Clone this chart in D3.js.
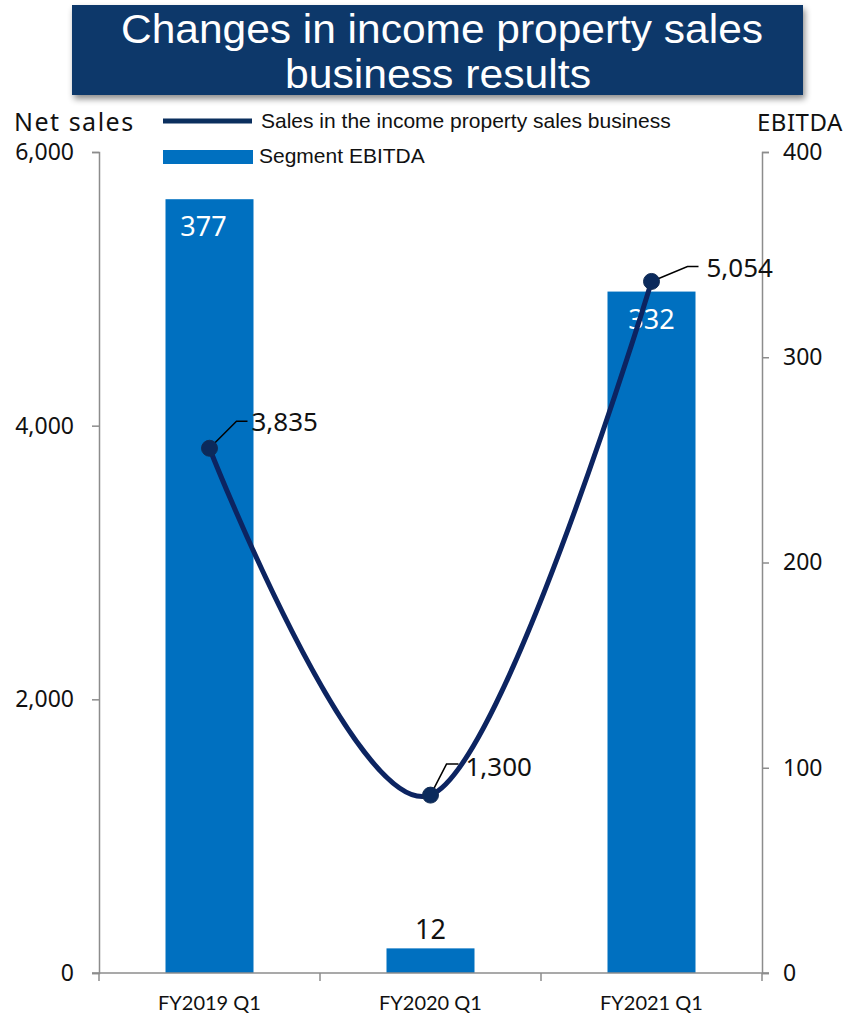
<!DOCTYPE html>
<html>
<head>
<meta charset="utf-8">
<script src="https://cdn.jsdelivr.net/npm/d3@7"></script>
<style>
  html, body { margin: 0; padding: 0; background: #fff; }
  svg { display: block; }
</style>
</head>
<body>
<svg id="chart" width="850" height="1016"></svg>
<script>
// Quarterly results for the income property sales business
const categories = ["FY2019 Q1", "FY2020 Q1", "FY2021 Q1"];
const netSales = [3835, 1300, 5054];      // line, left axis
const ebitda = [377, 12, 332];            // bars, right axis
const leftTicks = [0, 2000, 4000, 6000];
const rightTicks = [0, 100, 200, 300, 400];

const svg = d3.select("#chart");
const plot = { left: 99, right: 762, top: 152, bottom: 973 };
const labelFont = "'Noto Sans', 'Open Sans', sans-serif";
const catFont = "Lato, 'Noto Sans', sans-serif";
const arialFont = "'Liberation Sans', Arial, sans-serif";
const axisColor = "#8c8c8c";

const x = d3.scaleBand().domain(categories).range([plot.left, plot.right]).paddingInner(0).paddingOuter(0);
const yL = d3.scaleLinear().domain([0, 6000]).range([plot.bottom, plot.top]);
const yR = d3.scaleLinear().domain([0, 400]).range([plot.bottom, plot.top]);

// Title banner with drop shadow
const defs = svg.append("defs");
const f = defs.append("filter").attr("id", "shadow").attr("x", "-5%").attr("y", "-20%").attr("width", "110%").attr("height", "150%");
f.append("feDropShadow").attr("dx", 2).attr("dy", 4).attr("stdDeviation", 3).attr("flood-color", "#000").attr("flood-opacity", 0.45);

svg.append("rect").attr("x", 72).attr("y", 5).attr("width", 731).attr("height", 90)
  .attr("fill", "#0a386b").attr("filter", "url(#shadow)");
const title = svg.append("text").attr("text-anchor", "middle").attr("fill", "#fff")
  .attr("font-family", arialFont).attr("font-size", 40);
title.append("tspan").attr("x", 442).attr("y", 43)
  .attr("textLength", 642).attr("lengthAdjust", "spacingAndGlyphs")
  .text("Changes in income property sales");
title.append("tspan").attr("x", 438).attr("y", 88)
  .attr("textLength", 306).attr("lengthAdjust", "spacingAndGlyphs")
  .text("business results");

// Axis titles
svg.append("text").attr("x", 14).attr("y", 131).attr("font-family", labelFont).attr("font-size", 25)
  .attr("letter-spacing", 1.5).attr("fill", "#111").text("Net sales");
svg.append("text").attr("x", 757).attr("y", 131).attr("font-family", labelFont).attr("font-size", 24)
  .attr("letter-spacing", 0.5).attr("fill", "#111").text("EBITDA");

// Bars (segment EBITDA)
const barW = 88;
svg.append("g").selectAll("rect").data(ebitda).join("rect")
  .attr("x", (d, i) => x(categories[i]) + x.bandwidth() / 2 - barW / 2)
  .attr("y", d => yR(d))
  .attr("width", barW)
  .attr("height", d => yR(0) - yR(d))
  .attr("fill", "#0070c0");

// Axes
const gL = svg.append("g").attr("transform", `translate(${plot.left},0)`)
  .call(d3.axisLeft(yL).tickValues(leftTicks).tickSize(7).tickPadding(18).tickFormat(d3.format(",")));
const gR = svg.append("g").attr("transform", `translate(${plot.right},0)`)
  .call(d3.axisRight(yR).tickValues(rightTicks).tickSize(7).tickPadding(14));
[gL, gR].forEach(g => {
  g.select(".domain").attr("stroke", axisColor).attr("stroke-width", 1.5);
  g.selectAll(".tick line").attr("stroke", axisColor).attr("stroke-width", 1.5);
  g.selectAll(".tick text").attr("font-family", labelFont).attr("font-size", 23).attr("fill", "#111");
});

// Category axis with boundary ticks
const gX = svg.append("g").attr("transform", `translate(0,${plot.bottom})`);
gX.append("line").attr("x1", plot.left - 7).attr("x2", plot.right + 7)
  .attr("stroke", axisColor).attr("stroke-width", 1.5);
const bounds = categories.map(c => x(c)).concat([x(categories[categories.length - 1]) + x.bandwidth()]);
gX.selectAll("line.tb").data(bounds).join("line").attr("class", "tb")
  .attr("x1", d => d).attr("x2", d => d).attr("y1", 0).attr("y2", 8)
  .attr("stroke", axisColor).attr("stroke-width", 1.5);
gX.selectAll("text").data(categories).join("text")
  .attr("x", d => x(d) + x.bandwidth() / 2).attr("y", 37)
  .attr("text-anchor", "middle").attr("font-family", catFont).attr("font-size", 20)
  .attr("fill", "#111").text(d => d);

// Bar value labels
const barLabelInside = [true, false, true];
svg.append("g").selectAll("text").data(ebitda).join("text")
  .attr("x", (d, i) => x(categories[i]) + x.bandwidth() / 2 - (barLabelInside[i] && i === 0 ? 6 : 0))
  .attr("y", (d, i) => barLabelInside[i] ? yR(d) + 37 : yR(d) - 9)
  .attr("text-anchor", "middle").attr("font-family", labelFont).attr("font-size", 27)
  .attr("fill", (d, i) => barLabelInside[i] ? "#fff" : "#111")
  .text(d => d);

// Net sales line (smoothed)
const pts = netSales.map((v, i) => [x(categories[i]) + x.bandwidth() / 2, yL(v)]);
svg.append("path").datum(pts)
  .attr("d", d3.line().curve(d3.curveCatmullRom.alpha(0)))
  .attr("fill", "none").attr("stroke", "#0c2461").attr("stroke-width", 5);

// Leader lines and value labels for the line
const leaders = [
  { dx1: 27, dy1: -27, dx2: 38, tx: 42, ty: -17 },
  { dx1: 16, dy1: -31, dx2: 28, tx: 35, ty: -19 },
  { dx1: 36, dy1: -15, dx2: 47, tx: 55, ty: -4 }
];
const gLab = svg.append("g");
pts.forEach((p, i) => {
  const l = leaders[i];
  gLab.append("polyline")
    .attr("points", `${p[0]},${p[1]} ${p[0] + l.dx1},${p[1] + l.dy1} ${p[0] + l.dx2},${p[1] + l.dy1}`)
    .attr("fill", "none").attr("stroke", "#000").attr("stroke-width", 1.5);
});
svg.append("g").selectAll("circle").data(pts).join("circle")
  .attr("cx", d => d[0]).attr("cy", d => d[1]).attr("r", 8)
  .attr("fill", "#0b2a5c").attr("stroke", "#132d55").attr("stroke-width", 1);
pts.forEach((p, i) => {
  const l = leaders[i];
  gLab.append("text").attr("x", p[0] + l.tx).attr("y", p[1] + l.ty)
    .attr("font-family", labelFont).attr("font-size", 26).attr("fill", "#111")
    .text(d3.format(",")(netSales[i]));
});

// Legend
const lg = svg.append("g");
lg.append("line").attr("x1", 163).attr("x2", 252).attr("y1", 121).attr("y2", 121)
  .attr("stroke", "#0b2f5e").attr("stroke-width", 5);
lg.append("text").attr("x", 261).attr("y", 128).attr("font-family", arialFont).attr("font-size", 21)
  .attr("fill", "#111").text("Sales in the income property sales business");
lg.append("rect").attr("x", 163).attr("y", 150).attr("width", 90).attr("height", 14).attr("fill", "#0070c0");
lg.append("text").attr("x", 259).attr("y", 163).attr("font-family", arialFont).attr("font-size", 21)
  .attr("fill", "#111").text("Segment EBITDA");
</script>
</body>
</html>
